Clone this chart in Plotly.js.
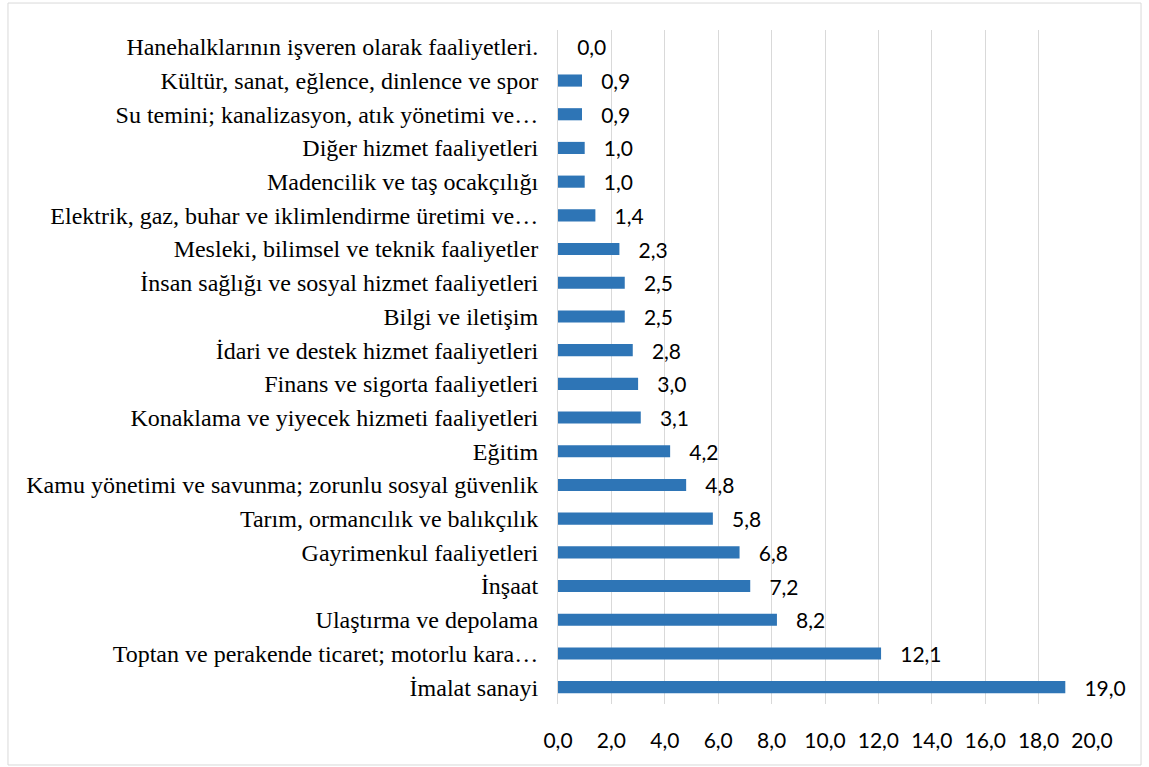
<!DOCTYPE html>
<html>
<head>
<meta charset="utf-8">
<script src="https://cdn.plot.ly/plotly-3.0.1.min.js"></script>
<style>html,body{margin:0;padding:0;background:#fff;}#chart{width:1149px;height:767px;}</style>
</head>
<body>
<div id="chart"></div>
<script>
const categories = [
  "İmalat sanayi",
  "Toptan ve perakende ticaret; motorlu kara…",
  "Ulaştırma ve depolama",
  "İnşaat",
  "Gayrimenkul faaliyetleri",
  "Tarım, ormancılık ve balıkçılık",
  "Kamu yönetimi ve savunma; zorunlu sosyal güvenlik",
  "Eğitim",
  "Konaklama ve yiyecek hizmeti faaliyetleri",
  "Finans ve sigorta faaliyetleri",
  "İdari ve destek hizmet faaliyetleri",
  "Bilgi ve iletişim",
  "İnsan sağlığı ve sosyal hizmet faaliyetleri",
  "Mesleki, bilimsel ve teknik faaliyetler",
  "Elektrik, gaz, buhar ve iklimlendirme üretimi ve…",
  "Madencilik ve taş ocakçılığı",
  "Diğer hizmet faaliyetleri",
  "Su temini; kanalizasyon, atık yönetimi ve…",
  "Kültür, sanat, eğlence, dinlence ve spor",
  "Hanehalklarının işveren olarak faaliyetleri."
];
const values = [19.0, 12.1, 8.2, 7.2, 6.8, 5.8, 4.8, 4.2, 3.1, 3.0, 2.8, 2.5, 2.5, 2.3, 1.4, 1.0, 1.0, 0.9, 0.9, 0.0];
const tickValues = [0, 2, 4, 6, 8, 10, 12, 14, 16, 18, 20];
const tickLabels = ["0,0", "2,0", "4,0", "6,0", "8,0", "10,0", "12,0", "14,0", "16,0", "18,0", "20,0"];
const valueLabels = values.map(v => v.toFixed(1).replace(".", ","));

const trace = {
  type: "bar",
  orientation: "h",
  x: values,
  y: categories,
  width: 0.36,
  marker: {color: "#2e75b6"},
  text: valueLabels,
  texttemplate: "   %{text}",
  textposition: "outside",
  constraintext: "none",
  cliponaxis: false,
  textfont: {family: "Lato", size: 21, color: "#000"},
  hoverinfo: "none"
};

const layout = {
  width: 1149, height: 767,
  margin: {l: 558, r: 57, t: 30, b: 63},
  paper_bgcolor: "#fff", plot_bgcolor: "#fff",
  showlegend: false,
  xaxis: {
    range: [0, 20],
    tickvals: tickValues,
    ticktext: tickLabels,
    showgrid: true, gridcolor: "#d9d9d9", gridwidth: 1,
    zeroline: false, showline: false,
    ticks: "", ticklabelstandoff: 22,
    tickfont: {family: "Lato", size: 21, color: "#000"},
    fixedrange: true
  },
  yaxis: {
    type: "category",
    showgrid: false, zeroline: false,
    showline: true, linecolor: "#d9d9d9", linewidth: 1,
    ticks: "", ticklabelstandoff: 14,
    tickfont: {family: "Liberation Serif, serif", size: 24, color: "#000"},
    fixedrange: true
  },
  shapes: [{
    type: "rect", xref: "paper", yref: "paper",
    x0: -1.030, x1: 1.0918, y0: -0.0905, y1: 1.040,
    line: {color: "#d9d9d9", width: 1}, fillcolor: "rgba(0,0,0,0)", layer: "below"
  }],
  bargap: 0.6
};

Plotly.newPlot("chart", [trace], layout, {displayModeBar: false, staticPlot: true});
</script>
</body>
</html>
